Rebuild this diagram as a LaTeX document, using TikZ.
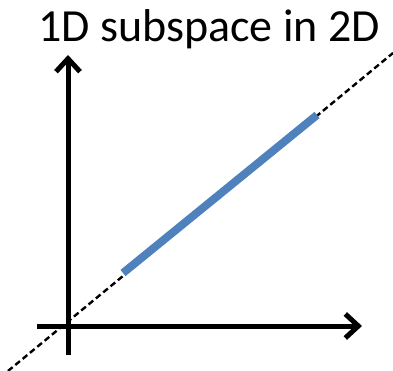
\documentclass[tikz,border=0pt]{standalone}
\usepackage{fontspec}
\setmainfont{Carlito}
\usetikzlibrary{arrows.meta}
\definecolor{subblue}{HTML}{4F81BD}
\tikzset{axis/.style={line width=5pt,-{Straight Barb[length=13pt,width=24pt,line width=5pt]}},
  spanline/.style={line width=2.4pt,dash pattern=on 6pt off 3.5pt},
  segment/.style={line width=8pt,subblue}}

\begin{document}
\begin{tikzpicture}[x=1pt,y=-1pt]
\useasboundingbox (0,0) rectangle (393,371);

\node (title) at (209,29) {\fontsize{46}{52}\selectfont 1D subspace in 2D};

\coordinate (origin) at (68,326);
\coordinate (ytip) at (68,55);
\coordinate (ybot) at (68,355);
\coordinate (xtip) at (362,326);
\coordinate (xleft) at (37,326);
\coordinate (dlo) at (8,371);
\coordinate (dhi) at (393,53);
\coordinate (slo) at (123,273);
\coordinate (shi) at (317,115);

\draw [spanline] (dlo) -- (dhi);
\draw [segment] (slo) -- (shi);
\draw [axis] (ybot) -- (ytip);
\draw [axis] (xleft) -- (xtip);

\end{tikzpicture}
\end{document}
